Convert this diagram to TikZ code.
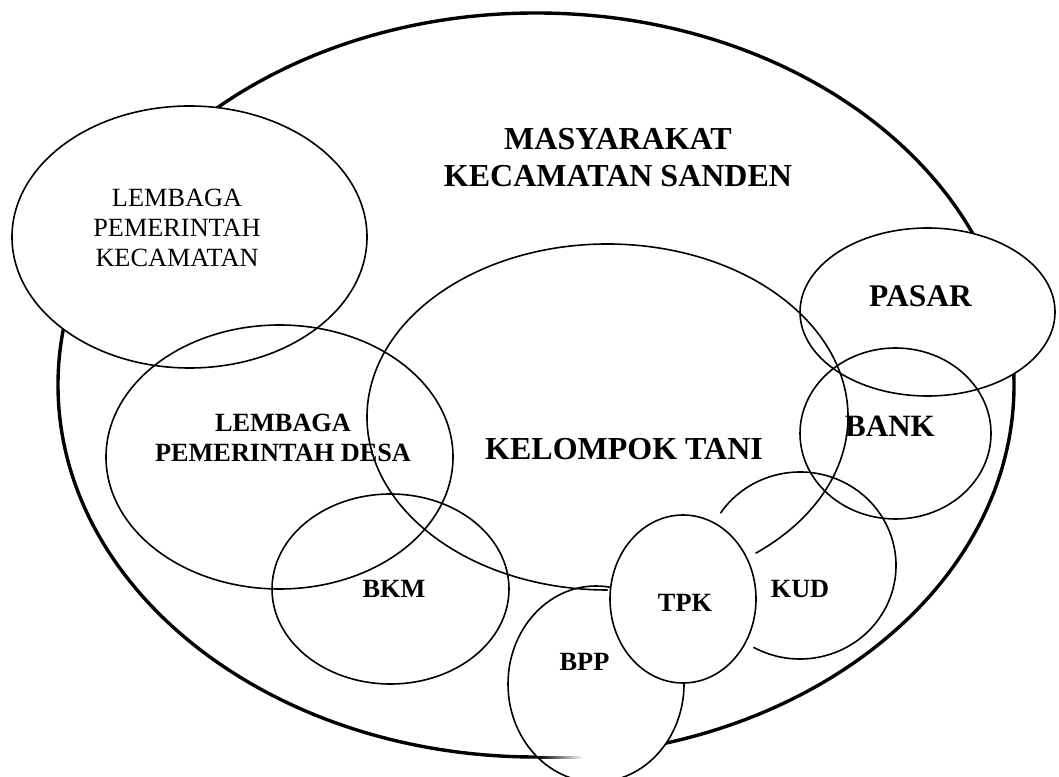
\documentclass[tikz,border=0pt]{standalone}
\usepackage{fontspec}
\setmainfont{Liberation Serif}
\usetikzlibrary{shapes.geometric}
\begin{document}
\begin{tikzpicture}[x=1pt,y=1pt,
  thinline/.style={line width=1.6pt},
  thickline/.style={line width=3.4pt},
  oval/.style={ellipse, inner sep=0pt, outer sep=0pt, thinline, draw=black},
  masked/.style={oval, fill=white},
  reglbl/.style={font=\fontsize{26.3}{30}\selectfont, align=center, inner sep=0pt},
  boldlbl/.style={font=\fontsize{26.3}{30}\selectfont\bfseries, align=center, inner sep=0pt},
  biglbl/.style={font=\fontsize{32}{37}\selectfont\bfseries, align=center, inner sep=0pt}]
\useasboundingbox (0,0) rectangle (1059,776);
\clip (0,0) rectangle (1059,776);
\fill[white] (0,0) rectangle (1059,776);

% outer ellipse: Masyarakat
\node[ellipse, draw=black, thickline, inner sep=0pt, minimum width=956pt, minimum height=744pt] (masy) at (536,391) {};

% white-filled shapes that hide the outer line
\node[masked, minimum width=355pt, minimum height=262pt] (lpk) at (189.5,539) {};
\node[masked, minimum width=255pt, minimum height=168pt] (pasar) at (927.5,464) {};
\node[masked, minimum width=176pt, minimum height=196pt] (bpp) at (596,92) {};

% faint remainder of the outer line inside BPP
\shade[left color=black, right color=white] (538,17.6) rectangle (583,19.8);

% see-through shapes
\node[oval, minimum width=347pt, minimum height=264pt] (lpd) at (279.5,319) {};
\coordinate (ktc) at (607.5,359);
\draw[thinline] (ktc) ++(-52:240.5pt and 173pt)
  arc[start angle=-52, end angle=270, x radius=240.5pt, y radius=173pt];
\node[oval, minimum width=237pt, minimum height=190pt] (bkm) at (390.5,187) {};
\node[oval, minimum width=191pt, minimum height=171pt] (bank) at (895.5,342.5) {};
\coordinate (kudc) at (800,210.5);
\draw[thinline] (kudc) ++(-119:96pt and 93.5pt)
  arc[start angle=-119, end angle=146, x radius=96pt, y radius=93.5pt];

% TPK on top
\node[masked, minimum width=146pt, minimum height=168pt] (tpk) at (683,177) {};

% labels
\node[reglbl] (lpkt) at (177,547.7) {LEMBAGA\\PEMERINTAH\\KECAMATAN};
\node[biglbl] (masyt) at (618,618.1) {MASYARAKAT\\KECAMATAN SANDEN};
\node[biglbl, anchor=base] (ktt) at (624,316) {KELOMPOK TANI};
\node[boldlbl] (lpdt) at (283,337.7) {LEMBAGA\\PEMERINTAH DESA};
\node[boldlbl, anchor=base] (bkmt) at (394,178) {BKM};
\node[boldlbl, anchor=base] (bppt) at (584.5,106) {BPP};
\node[boldlbl, anchor=base] (tpkt) at (685,164) {TPK};
\node[boldlbl, anchor=base] (kudt) at (800,178) {KUD};
\node[biglbl, anchor=base, font=\fontsize{31.5}{36}\selectfont\bfseries] (pasart) at (920.5,469) {PASAR};
\node[biglbl, anchor=base, font=\fontsize{31}{36}\selectfont\bfseries] (bankt) at (890,339) {BANK};
\end{tikzpicture}
\end{document}
